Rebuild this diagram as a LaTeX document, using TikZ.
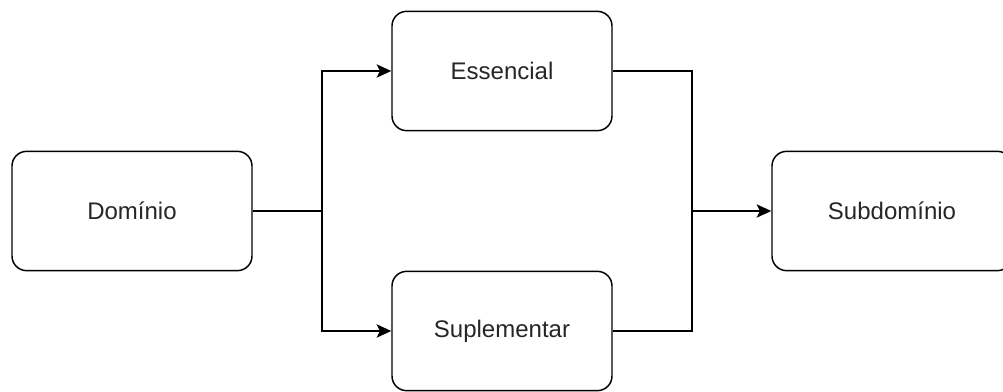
\documentclass[tikz,border=0pt]{standalone}
\usepackage{fontspec}
\setmainfont{Liberation Sans}
\usetikzlibrary{arrows.meta}
\begin{document}
\begin{tikzpicture}[x=0.75pt,y=-0.75pt,
  box/.style={draw=black, line width=1.1pt, rounded corners=11pt,
    minimum width=180pt, minimum height=89.5pt, inner sep=0pt,
    font=\fontsize{18pt}{20pt}\selectfont, text=black!85},
  midbox/.style={box, minimum width=165pt},
  link/.style={draw=black, line width=1.1pt},
  tip/.style={-{Stealth[length=11pt,width=10pt,inset=2.5pt]}}]
  \clip (0,0) rectangle (1003,392);
  \fill[white] (0,0) rectangle (1003,392);

  % the four blocks
  \node[box] (dom) at (132,211) {Domínio};
  \node[midbox] (ess) at (502,71) {Essencial};
  \node[midbox] (sup) at (502,331) {Suplementar};
  \node[box] (sub) at (892,211) {Subdomínio};

  % branch and merge points
  \coordinate (split) at (322,211);
  \coordinate (merge) at (692,211);

  \draw[link] (dom.east) -- (split);
  \draw[link,tip] (split) |- (ess.west);
  \draw[link,tip] (split) |- (sup.west);
  \draw[link] (ess.east) -| (merge);
  \draw[link] (sup.east) -| (merge);
  \draw[link,tip] (merge) -- (sub.west);
\end{tikzpicture}
\end{document}
